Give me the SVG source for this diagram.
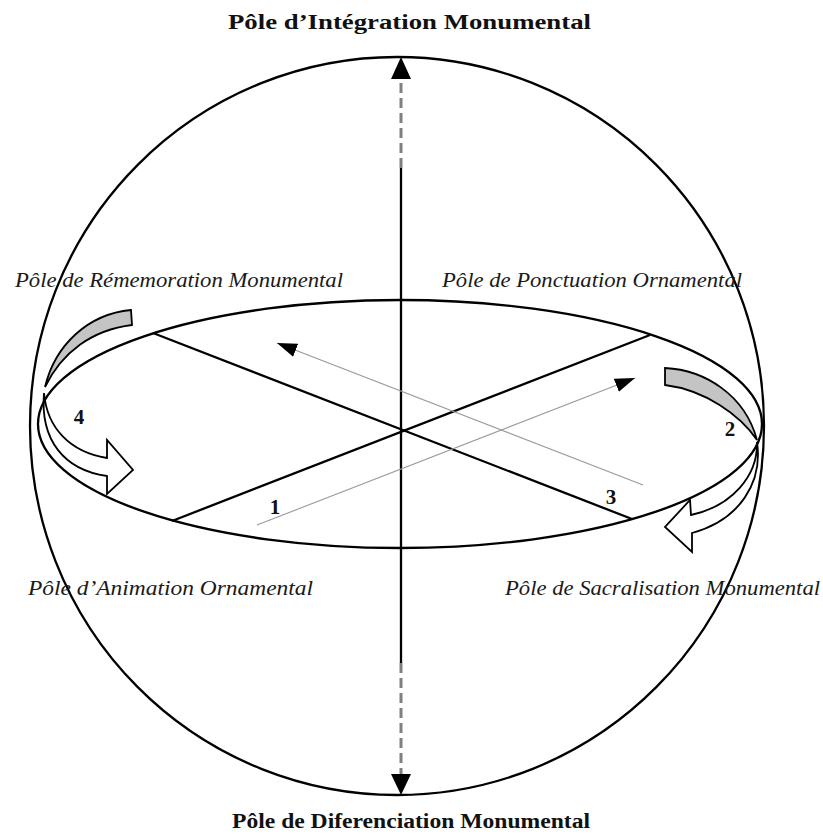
<svg xmlns="http://www.w3.org/2000/svg" width="823" height="835" viewBox="0 0 823 835">
<style>
.ln{fill:none;stroke:#000;stroke-width:2.3}
.thin{fill:none;stroke:#9a9a9a;stroke-width:1.1}
.dash{fill:none;stroke:#808080;stroke-width:3;stroke-dasharray:10 5}
.pole{font-family:"Liberation Serif",serif;font-weight:bold;font-size:20px;fill:#111}
.it{font-family:"Liberation Serif",serif;font-style:italic;font-size:20px;fill:#1a1a1a}
.num{font-family:"Liberation Serif",serif;font-weight:bold;font-size:21px;fill:#111;text-anchor:middle}
.gray{fill:#c4c4c4;stroke:#000;stroke-width:1.8}
.white{fill:#fff;stroke:#000;stroke-width:1.8}
</style>
<defs>
<marker id="ah" viewBox="0 0 20 14" refX="20" refY="7" markerWidth="20" markerHeight="14" markerUnits="userSpaceOnUse" orient="auto"><path d="M0,0 L20,7 L0,14 Z" fill="#000"/></marker>
</defs>
<rect width="823" height="835" fill="#fff"/>
<g id="sphere"><ellipse cx="397" cy="426" rx="367" ry="369" class="ln"/></g>
<g id="equator"><ellipse cx="400" cy="424" rx="362" ry="124" class="ln" stroke-width="2.6"/></g>
<g id="diagonals">
<line x1="172" y1="521" x2="650" y2="335" class="ln" stroke-width="2.6"/>
<line x1="153" y1="333" x2="632" y2="519" class="ln" stroke-width="2.6"/>
</g>
<g id="connectors">
<line x1="401" y1="168" x2="401" y2="663" class="ln" stroke-width="3.2"/>
<line x1="401" y1="168" x2="401" y2="78" class="dash"/>
<line x1="401" y1="663" x2="401" y2="776" class="dash"/>
<polygon points="401,57 391,79 411,79" fill="#000"/>
<polygon points="401,795 391,774 411,774" fill="#000"/>
<line x1="257" y1="525" x2="635" y2="378" class="thin" marker-end="url(#ah)"/>
<line x1="643" y1="485" x2="277" y2="343" class="thin" marker-end="url(#ah)"/>
</g>
<g id="rotation-left">
<path class="gray" d="M131,310 L132,325 C92,330 62,352 45,387 C55,345 88,314 131,310 Z"/>
<path class="white" d="M44,393 C47,428 70,452 107,458 L107,440 L133,470 L107,494 L107,476 C64,470 40,440 44,393 Z"/>
</g>
<g id="rotation-right">
<path class="gray" d="M665,368 C705,370 745,395 757,440 C740,415 705,390 665,385 Z"/>
<path class="white" d="M757,442 C758,476 732,506 691,515 L690,500 L665,527 L692,552 L692,533 C740,520 763,482 757,442 Z"/>
</g>
<g id="numbers">
<text class="num" x="79" y="424">4</text>
<text class="num" x="730" y="436">2</text>
<text class="num" x="275" y="514">1</text>
<text class="num" x="611" y="504">3</text>
</g>
<g id="pole-integration"><text class="pole" x="228" y="29" textLength="363" lengthAdjust="spacingAndGlyphs">Pôle d’Intégration Monumental</text></g>
<g id="pole-differenciation"><text class="pole" x="232" y="828" textLength="358" lengthAdjust="spacingAndGlyphs">Pôle de Diferenciation Monumental</text></g>
<g id="pole-rememoration"><text class="it" x="15" y="287" textLength="328" lengthAdjust="spacingAndGlyphs">Pôle de Rémemoration Monumental</text></g>
<g id="pole-ponctuation"><text class="it" x="442" y="287" textLength="300" lengthAdjust="spacingAndGlyphs">Pôle de Ponctuation Ornamental</text></g>
<g id="pole-animation"><text class="it" x="28" y="595" textLength="285" lengthAdjust="spacingAndGlyphs">Pôle d’Animation Ornamental</text></g>
<g id="pole-sacralisation"><text class="it" x="505" y="595" textLength="315" lengthAdjust="spacingAndGlyphs">Pôle de Sacralisation Monumental</text></g>
</svg>
